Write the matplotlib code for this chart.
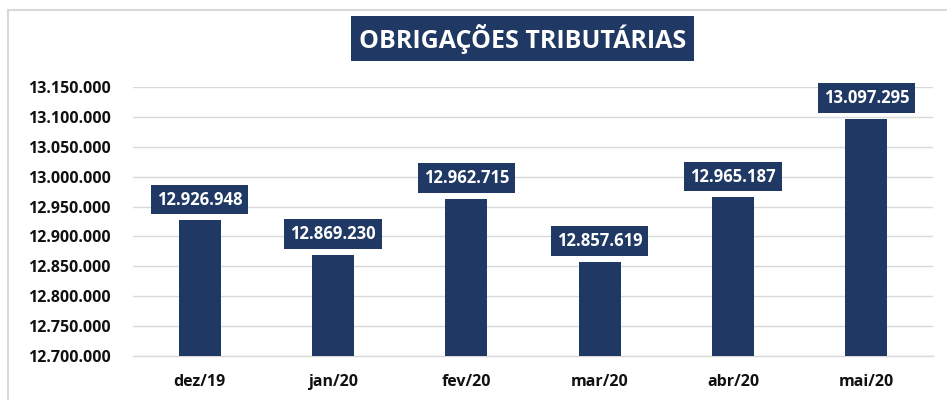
import matplotlib
matplotlib.use("Agg")
import matplotlib.pyplot as plt
from matplotlib.lines import Line2D
from matplotlib.ticker import FuncFormatter

categories = ["dez/19", "jan/20", "fev/20", "mar/20", "abr/20", "mai/20"]
values = [12926948, 12869230, 12962715, 12857619, 12965187, 13097295]
title = "OBRIGAÇÕES TRIBUTÁRIAS"
y_min, y_max, y_step = 12700000, 13150000, 50000

NAVY = "#203864"
GRID = "#D9D9D9"

plt.rcParams['font.family'] = ['Open Sans', 'DejaVu Sans']

def fmt(v):
    return f"{int(round(v)):,}".replace(",", ".")

fig = plt.figure(figsize=(9.47, 4.0), dpi=100)
ax = fig.add_axes([133/947, 44/400, 800/947, 269/400])

x = list(range(len(categories)))
ax.bar(x, [v - y_min for v in values], bottom=y_min, width=0.315, color=NAVY, zorder=3)

ax.set_ylim(y_min, y_max)
ax.set_xlim(-0.5, len(categories) - 0.5)
ax.set_yticks(list(range(y_min, y_max + 1, y_step)))
ax.yaxis.set_major_formatter(FuncFormatter(lambda v, p: fmt(v)))
ax.set_xticks(x)
ax.set_xticklabels(categories)
ax.tick_params(axis='y', length=0, pad=16, labelsize=11.5)
ax.tick_params(axis='x', length=0, pad=13, labelsize=11.5)
for lab in ax.get_yticklabels() + ax.get_xticklabels():
    lab.set_fontweight('bold')
    lab.set_color('#111111')
ax.grid(axis='y', color=GRID, lw=1.0, zorder=0)
for s in ['top', 'right', 'left']:
    ax.spines[s].set_visible(False)
ax.spines['bottom'].set_color(GRID)
ax.spines['bottom'].set_linewidth(1.0)

for xi, v in zip(x, values):
    ax.annotate(fmt(v), xy=(xi, v), xytext=(0, 15), textcoords='offset points',
                ha='center', va='center', color='white', fontsize=12, fontweight='bold',
                bbox=dict(boxstyle='square,pad=0.35', fc=NAVY, ec='none'), zorder=4)

fig.text(522.5/947, 1 - 38.5/400, title, ha='center', va='center', color='white',
         fontsize=18, fontweight='bold',
         bbox=dict(boxstyle='square,pad=0.3', fc=NAVY, ec='none'))

# outer border (left and top visible)
fig.add_artist(Line2D([8/947, 8/947], [0, 1 - 10/400], transform=fig.transFigure, color=GRID, lw=1.5))
fig.add_artist(Line2D([8/947, 1], [1 - 10/400, 1 - 10/400], transform=fig.transFigure, color=GRID, lw=1.5))

fig.savefig("out.png", dpi=100)
